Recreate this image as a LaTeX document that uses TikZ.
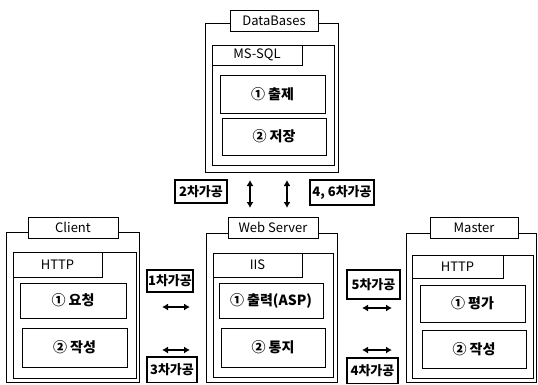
\documentclass[tikz,border=0pt]{standalone}
\usepackage{fontspec}
\setmainfont{Noto Sans CJK KR}
\usetikzlibrary{arrows.meta}
\newcommand\mkbox[7]{\node[#1,anchor=north west,minimum width={(#4-#2)*1pt},minimum height={(#5-#3)*1pt}] (#6) at (#2,#3) {#7};}
\begin{document}
\begin{tikzpicture}[x=1pt,y=-1pt,
  every node/.style={inner sep=0pt,outer sep=0pt},
  frame/.style={draw,line width=1pt},
  tab/.style={draw,fill=white,line width=1pt,font=\fontsize{13}{15}\selectfont},
  itab/.style={draw,line width=1pt,font=\fontsize{13}{15}\selectfont},
  item/.style={draw,line width=1pt,font=\bfseries\fontsize{14}{16}\selectfont},
  lbl/.style={draw,line width=1.1pt,font=\bfseries\fontsize{13}{15}\selectfont},
  dar/.style={{Latex[length=6pt,width=7pt]}-{Latex[length=6pt,width=7pt]},line width=2pt}]
\fill[white] (0,0) rectangle (538,384);
\useasboundingbox (0,0) rectangle (538,384);
% DataBases
\mkbox{frame}{205}{23}{338}{172}{db}{}
\mkbox{tab}{230}{10}{318}{31}{dbt}{DataBases}
\mkbox{frame}{212}{45}{334}{165}{dbi}{}
\mkbox{itab}{212}{45}{302}{65}{dbit}{MS-SQL}
\mkbox{item}{220}{75}{325}{113}{db1}{① 출제}
\mkbox{item}{222}{118}{326}{155}{db2}{② 저장}
% Web Server
\mkbox{frame}{206}{233}{337}{382}{ws}{}
\mkbox{tab}{228}{217}{318}{238}{wst}{Web Server}
\mkbox{frame}{213}{253}{333}{377}{wsi}{}
\mkbox{itab}{213}{253}{302}{277}{wsit}{IIS}
\mkbox{item}{219}{283}{323}{318}{ws1}{① 출력(ASP)}
\mkbox{item}{221}{328}{325}{367}{ws2}{② 통지}
% Client
\mkbox{frame}{6}{232}{139}{382.5}{cl}{}
\mkbox{tab}{28}{217}{118}{238}{clt}{Client}
\mkbox{frame}{13}{252}{136}{378}{cli}{}
\mkbox{itab}{13}{252}{102}{277}{clit}{HTTP}
\mkbox{item}{20}{283}{126}{318}{cl1}{① 요청}
\mkbox{item}{22}{328}{127}{367}{cl2}{② 작성}
% Master
\mkbox{frame}{406}{233}{536.5}{382.5}{ms}{}
\mkbox{tab}{430}{217}{518}{238}{mst}{Master}
\mkbox{frame}{412}{255}{533}{378}{msi}{}
\mkbox{itab}{412}{255}{503}{278}{msit}{HTTP}
\mkbox{item}{420}{285}{525}{322}{ms1}{① 평가}
\mkbox{item}{422}{330}{526}{368}{ms2}{② 작성}
% labels
\mkbox{lbl}{175}{180}{227}{203}{l2}{2차가공}
\mkbox{lbl}{310}{180}{374}{205}{l46}{4, 6차가공}
\mkbox{lbl}{147}{270}{193}{292}{l1}{1차가공}
\mkbox{lbl}{147}{357}{197}{382.5}{l3}{3차가공}
\mkbox{lbl}{347}{270}{400}{299}{l5}{5차가공}
\mkbox{lbl}{347}{358}{398}{383.5}{l4}{4차가공}
% arrows
\coordinate (v1a) at (250,180); \coordinate (v1b) at (250,208);
\coordinate (v2a) at (287,180); \coordinate (v2b) at (287,208);
\coordinate (h1a) at (162,307); \coordinate (h1b) at (190,307);
\coordinate (h3a) at (162,350); \coordinate (h3b) at (190,350);
\coordinate (h5a) at (362,308); \coordinate (h5b) at (392,308);
\coordinate (h4a) at (362,350); \coordinate (h4b) at (392,350);
\draw[dar] (v1a) -- (v1b);
\draw[dar] (v2a) -- (v2b);
\draw[dar] (h1a) -- (h1b);
\draw[dar] (h3a) -- (h3b);
\draw[dar] (h5a) -- (h5b);
\draw[dar] (h4a) -- (h4b);
\end{tikzpicture}
\end{document}
